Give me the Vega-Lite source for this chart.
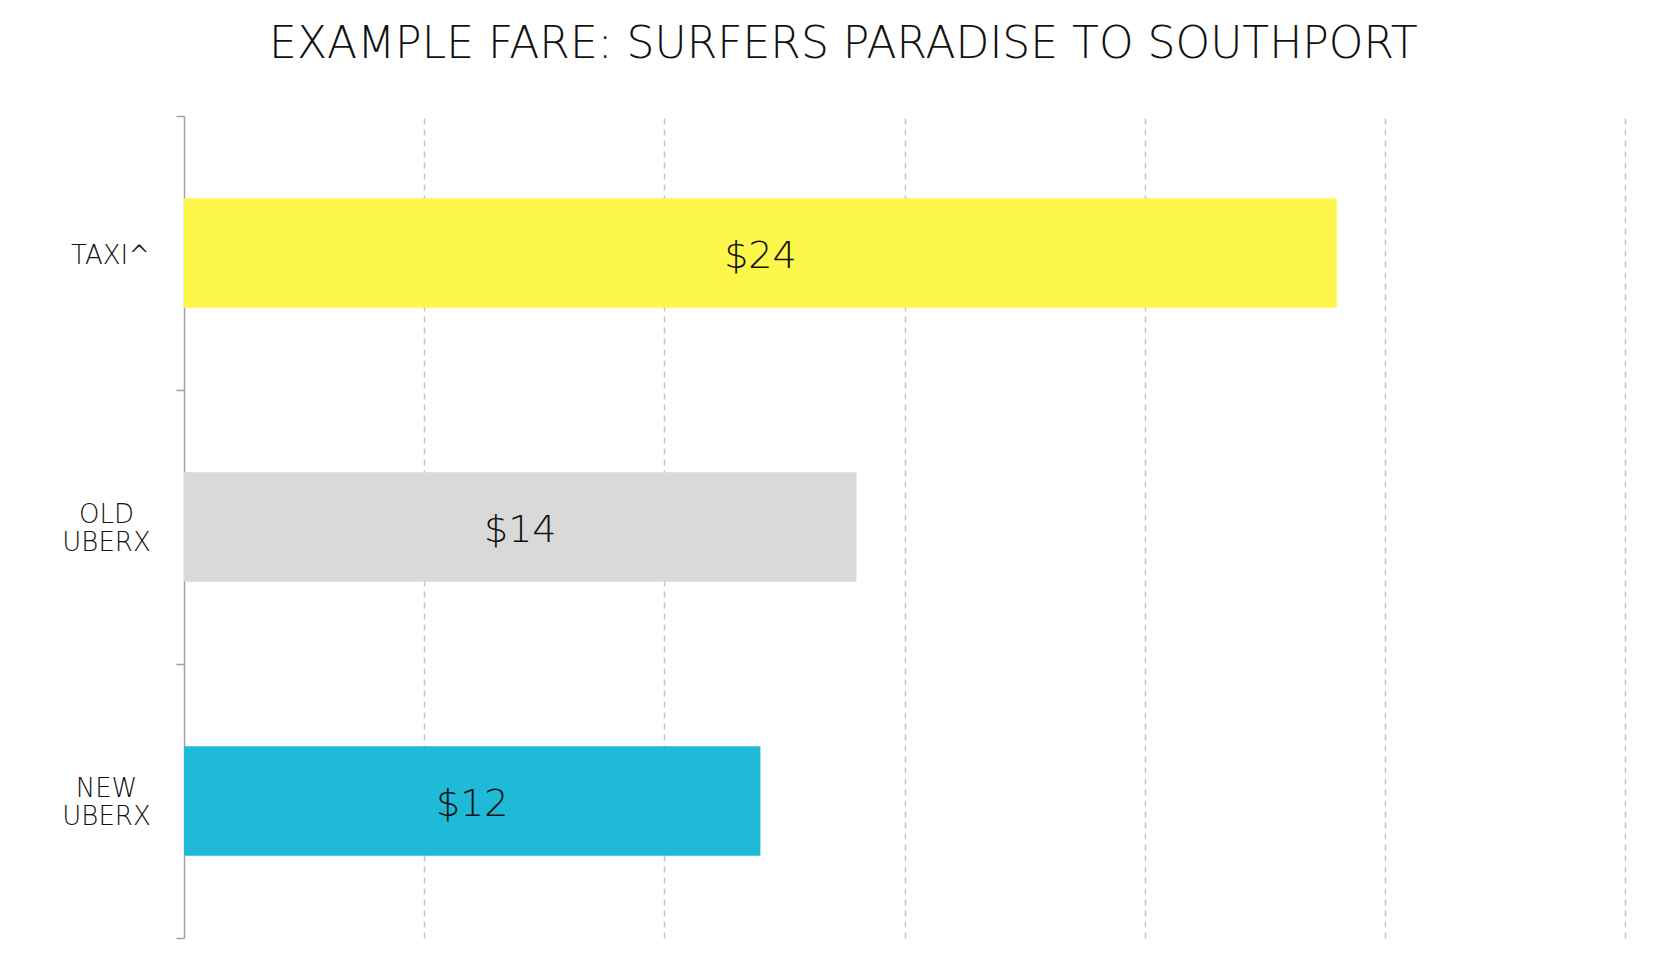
{
  "$schema": "https://vega.github.io/schema/vega-lite/v6.json",
  "autosize": "none",
  "width": 1441,
  "height": 822,
  "padding": {"left": 184, "top": 116, "right": 53, "bottom": 28},
  "background": "white",
  "title": {
    "text": "EXAMPLE FARE: SURFERS PARADISE TO SOUTHPORT",
    "font": "DejaVu Sans",
    "fontSize": 44,
    "fontWeight": 300,
    "color": "#111111",
    "anchor": "middle",
    "frame": "bounds",
    "baseline": "alphabetic",
    "offset": 1
  },
  "data": {
    "values": [
      {"service": "TAXI^", "fare": 24},
      {"service": "OLD UBERX", "fare": 14},
      {"service": "NEW UBERX", "fare": 12}
    ]
  },
  "encoding": {
    "y": {
      "field": "service",
      "type": "nominal",
      "sort": null,
      "scale": {"paddingInner": 0, "paddingOuter": 0},
      "axis": {
        "title": null,
        "tickBand": "extent",
        "domainColor": "#a0a0a0",
        "domainWidth": 1.5,
        "tickColor": "#a0a0a0",
        "tickWidth": 1.5,
        "tickSize": 8,
        "labelExpr": "split(datum.label, ' ')",
        "labelFont": "DejaVu Sans",
        "labelFontSize": 26,
        "labelFontWeight": 300,
        "labelLineHeight": 28,
        "labelColor": "#111111",
        "labelAlign": "center",
        "labelBaseline": "middle",
        "labelPadding": {"condition": {"test": "datum.value === 'TAXI^'", "value": 66}, "value": 70},
        "labelOffset": {"condition": {"test": "datum.value === 'TAXI^'", "value": 2}, "value": -13}
      }
    }
  },
  "layer": [
    {
      "mark": {"type": "bar", "height": {"band": 0.4}},
      "encoding": {
        "x": {
          "field": "fare",
          "type": "quantitative",
          "scale": {"domain": [0, 30], "nice": false},
          "axis": {
            "values": [5, 10, 15, 20, 25, 30],
            "labels": false,
            "ticks": false,
            "domain": false,
            "title": null,
            "grid": true,
            "gridDash": [6, 5],
            "gridColor": "#c4c4c8",
            "gridWidth": 1.5
          }
        },
        "color": {
          "field": "service",
          "type": "nominal",
          "scale": {
            "domain": ["TAXI^", "OLD UBERX", "NEW UBERX"],
            "range": ["#fef74b", "#d9d9d9", "#1fbad7"]
          },
          "legend": null
        }
      }
    },
    {
      "mark": {"type": "text", "font": "DejaVu Sans", "fontSize": 38, "fontWeight": 300, "color": "#111111", "align": "center", "baseline": "middle", "dy": 4},
      "encoding": {
        "x": {
          "field": "fare",
          "type": "quantitative",
          "scale": {"domain": [0, 60], "nice": false},
          "axis": null
        },
        "text": {"field": "fare", "type": "quantitative", "format": "$.0f"}
      }
    }
  ],
  "resolve": {"scale": {"x": "independent"}},
  "config": {"view": {"stroke": null}}
}
